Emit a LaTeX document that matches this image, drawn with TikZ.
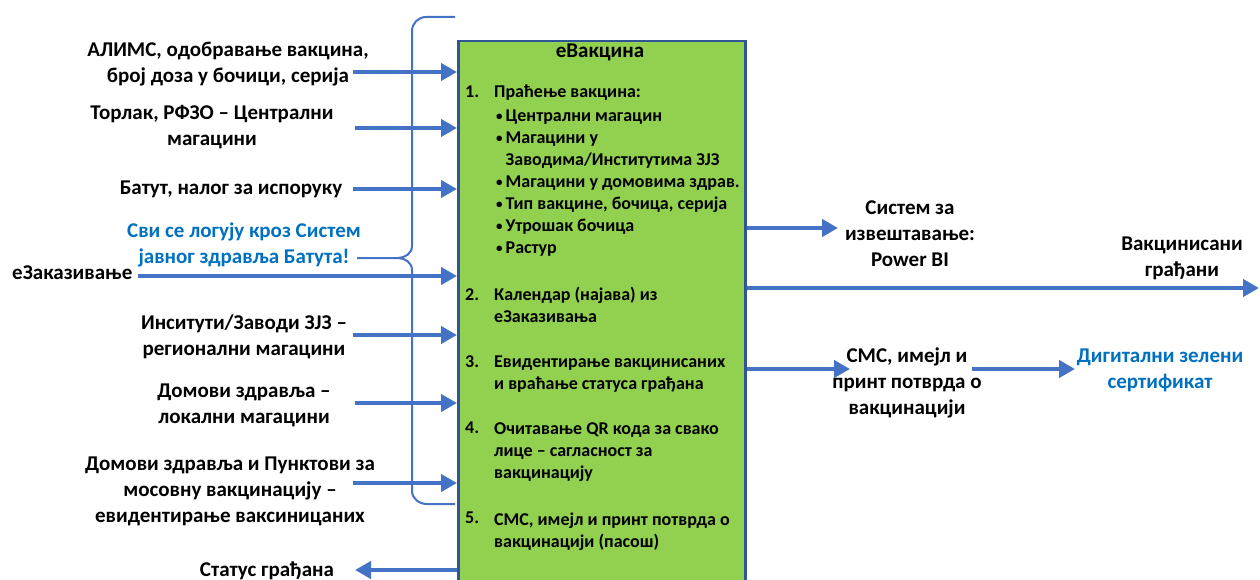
\documentclass[tikz,border=0pt]{standalone}
\usepackage{fontspec}
\setmainfont{Carlito}
\usetikzlibrary{arrows.meta}
\definecolor{arrowblue}{HTML}{4472C4}
\definecolor{textblue}{HTML}{0070C0}
\definecolor{boxgreen}{HTML}{92D050}
\definecolor{boxborder}{HTML}{2F5597}
\newcommand\itembul{\raisebox{1pt}{\fontsize{13}{13}\selectfont•}\hspace{3pt}}
\tikzset{
  flow/.style={arrowblue, line width=4pt, -{Triangle[length=16pt,width=17pt]}},
  brace/.style={arrowblue, line width=2pt},
  lbl/.style={font=\fontsize{21}{26}\selectfont\bfseries, align=center, anchor=base, inner sep=0pt},
  intxt/.style={font=\fontsize{18}{22}\selectfont\bfseries, align=left, anchor=base west, inner sep=0pt},
}
\begin{document}
\begin{tikzpicture}[x=1pt,y=-1pt]
  \useasboundingbox (0,0) rectangle (1260,580);
  \clip (0,0) rectangle (1260,580);
  % main system box (base = last line)
  \node[draw=boxborder, line width=2.5pt, fill=boxgreen, minimum width=287pt, minimum height=600pt,
    anchor=north west, inner sep=0pt] (evac) at (457,40) {};
  \node[lbl] (title) at (600,58) {еВакцина};
  \node[intxt] (n1) at (465,98) {1.};
  \node[intxt] (p1) at (494,98) {Праћење вакцина:};
  \node[intxt] (b1) at (496,253) {\itembul Централни магацин\\\itembul Магацини у\\\phantom{\itembul}Заводима/Институтима ЗЈЗ\\
    \itembul Магацини у домовима здрав.\\\itembul Тип вакцине, бочица, серија\\\itembul Утрошак бочица\\\itembul Растур};
  \node[intxt] (n2) at (465,300) {2.};
  \node[intxt] (p2) at (494,322) {Календар (најава) из\\еЗаказивања};
  \node[intxt] (n3) at (465,367) {3.};
  \node[intxt] (p3) at (494,389) {Евидентирање вакцинисаних\\и враћање статуса грађана};
  \node[intxt] (n4) at (465,433) {4.};
  \node[intxt] (p4) at (494,478) {Очитавање QR кода за свако\\лице -- сагласност за\\вакцинацију};
  \node[intxt] (n5) at (465,523) {5.};
  \node[intxt] (p5) at (494,547) {СМС, имејл и принт потврда о\\вакцинацији (пасош)};
  % inputs
  \node[lbl] (alims) at (228,83) {АЛИМС, одобравање вакцина,\\број доза у бочици, серија};
  \node[lbl] (torlak) at (212,146) {Торлак, РФЗО -- Централни\\магацини};
  \node[lbl] (batut) at (231,194) {Батут, налог за испоруку};
  \node[lbl, textblue] (login) at (244,263) {Сви се логују кроз Систем\\јавног здравља Батута!};
  \node[lbl, anchor=base west] (ezak) at (12,279) {еЗаказивање};
  \node[lbl] (zzjz) at (244,355) {Инситути/Заводи ЗЈЗ --\\регионални магацини};
  \node[lbl] (dz) at (244,423) {Домови здравља --\\локални магацини};
  \node[lbl] (punkt) at (230,522) {Домови здравља и Пунктови за\\мосовну вакцинацију --\\евидентирање ваксиницаних};
  \node[lbl] (status) at (267,576) {Статус грађана};
  \coordinate (a1) at (353,72);
  \coordinate (a2) at (355,128);
  \coordinate (a3) at (353,189);
  \coordinate (a4) at (138,276);
  \coordinate (a5) at (353,335);
  \coordinate (a6) at (355,403);
  \coordinate (a7) at (353,483);
  \coordinate (a8) at (355,570);
  \foreach \c in {a1,a2,a3,a4,a5,a6,a7}
    \draw[flow] (\c) -- (\c -| evac.west);
  \draw[flow] (a8 -| evac.west) -- (a8);
  % brace round the inputs
  \draw[brace] (455,17) -- (426,17) to[out=180,in=90] (412,31) -- (412,246)
    to[out=-90,in=0] (398,258) -- (357,258);
  \draw[brace] (398,258) to[out=0,in=90] (412,270) -- (412,491)
    to[out=-90,in=180] (427,504) -- (455,504);
  % outputs
  \node[lbl] (powerbi) at (910,266) {Систем за\\извештавање:\\Power BI};
  \node[lbl] (vakc) at (1182,276) {Вакцинисани\\грађани};
  \node[lbl] (sms) at (907,414) {СМС, имејл и\\принт потврда о\\вакцинацији};
  \node[lbl, textblue] (cert) at (1160,388) {Дигитални зелени\\сертификат};
  \coordinate (r1) at (838,228);
  \coordinate (r2) at (1259,288);
  \coordinate (r3) at (850,369);
  \coordinate (r4) at (972,369);
  \coordinate (r5) at (1075,369);
  \draw[flow] (r1 -| evac.east) -- (r1);
  \draw[flow] (r2 -| evac.east) -- (r2);
  \draw[flow] (r3 -| evac.east) -- (r3);
  \draw[flow] (r4) -- (r5);
\end{tikzpicture}
\end{document}
